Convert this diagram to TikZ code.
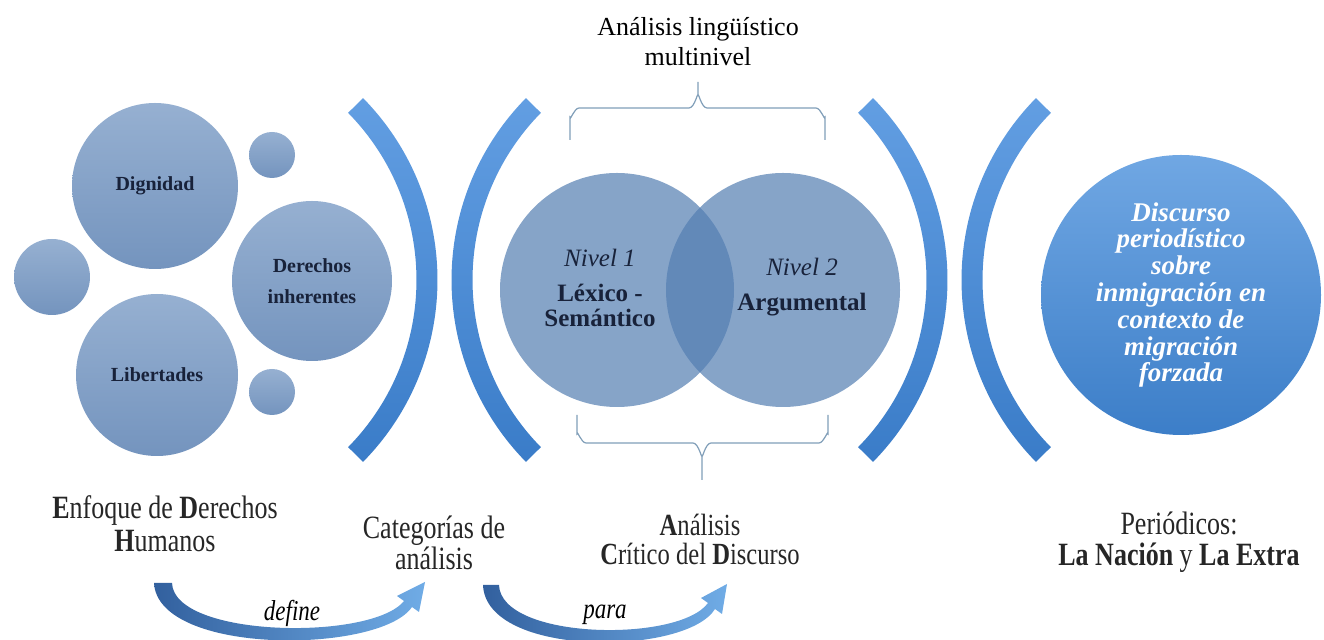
\documentclass[tikz,border=0pt]{standalone}
\usepackage{fontspec}
\setmainfont{Liberation Serif}

\definecolor{bubbletop}{RGB}{150,176,209}
\definecolor{bubblebot}{RGB}{116,148,190}
\definecolor{venncol}{RGB}{82,125,177}
\definecolor{arctop}{RGB}{98,158,226}
\definecolor{arcbot}{RGB}{58,124,200}
\definecolor{bigtop}{RGB}{112,167,227}
\definecolor{bigbot}{RGB}{60,126,200}
\definecolor{navy}{RGB}{24,34,58}
\definecolor{bracecol}{RGB}{128,158,184}
\definecolor{swdark}{RGB}{50,96,158}
\definecolor{swlight}{RGB}{112,172,230}

\newcommand{\tall}[1]{\scalebox{1}[1.25]{#1}}

\begin{document}
\lineskiplimit=-20pt
\begin{tikzpicture}[x=0.5pt,y=-0.5pt,
  bubble/.style={circle,top color=bubbletop,bottom color=bubblebot,inner sep=0pt,align=center,text=navy,font=\fontsize{10}{15.5}\selectfont\bfseries},
  venn/.style={circle,fill=venncol,fill opacity=0.7,text opacity=1,minimum size=117pt,inner sep=0pt},
  band/.style={top color=arctop,bottom color=arcbot},
  caption/.style={align=center,text=black!85},
  brace/.style={draw=bracecol,line width=0.6pt},
  swoosh/.style={left color=swdark,right color=swlight}]

\useasboundingbox (0,0) rectangle (1324,640);

% enfoque de derechos humanos
\node(dig) at (155,186)[bubble,minimum size=83pt]{Dignidad};
\node(s1) at (272,155)[bubble,minimum size=23pt]{};
\node(s2) at (52,277)[bubble,minimum size=38pt]{};
\node(der) at (312,281)[bubble,minimum size=80pt]{Derechos\\inherentes};
\node(lib) at (157,375)[bubble,minimum size=81pt]{Libertades};
\node(s3) at (272,392)[bubble,minimum size=23pt]{};

% parentheses
\shade[band] ([shift={(-44.5:259.5)}]178,280) arc[start angle=-44.5,end angle=44.5,radius=259.5] -- ([shift={(44.5:238.5)}]178,280) arc[start angle=44.5,end angle=-44.5,radius=238.5] -- cycle;
\shade[band] ([shift={(135.5:259.5)}]711,280) arc[start angle=135.5,end angle=224.5,radius=259.5] -- ([shift={(224.5:238.5)}]711,280) arc[start angle=224.5,end angle=135.5,radius=238.5] -- cycle;
\shade[band] ([shift={(-44.5:259.5)}]688,280) arc[start angle=-44.5,end angle=44.5,radius=259.5] -- ([shift={(44.5:238.5)}]688,280) arc[start angle=44.5,end angle=-44.5,radius=238.5] -- cycle;
\shade[band] ([shift={(135.5:259.5)}]1221,280) arc[start angle=135.5,end angle=224.5,radius=259.5] -- ([shift={(224.5:238.5)}]1221,280) arc[start angle=224.5,end angle=135.5,radius=238.5] -- cycle;

% niveles
\node(n1) at (617,290)[venn]{};
\node(n2) at (783,290)[venn]{};
\node(t1) at (600,288)[align=center,text=navy,font=\fontsize{12.5}{12.5}\selectfont]{{\itshape Nivel 1}\\[5pt]\textbf{Léxico -}\\\textbf{Semántico}};
\node(t2) at (802,287)[align=center,text=navy,font=\fontsize{12.5}{12.5}\selectfont]{{\itshape Nivel 2}\\[5pt]\textbf{Argumental}};

\node(alm) at (698,42)[align=center,font=\fontsize{13}{15}\selectfont]{Análisis lingüístico\\multinivel};
\draw[brace] (570,140) -- (570,117) to[out=-90,in=180] (579,108) -- (689,108) to[out=0,in=90] (698,96) -- (698,82) -- (698,96) to[out=90,in=180] (707,108) -- (816,108) to[out=0,in=-90] (825,117) -- (825,140);
\draw[brace] (577,415) -- (577,434) to[out=90,in=180] (586,443) -- (693,443) to[out=0,in=-90] (702,455) -- (702,480) -- (702,455) to[out=-90,in=180] (711,443) -- (819,443) to[out=0,in=90] (828,434) -- (828,415);

% discurso
\node(disc) at (1181,295)[circle,top color=bigtop,bottom color=bigbot,minimum size=140pt,inner sep=0pt,align=center,text=white,font=\fontsize{13.5}{13.4}\selectfont\bfseries\itshape]{Discurso\\periodístico\\sobre\\inmigración en\\contexto de\\migración\\forzada};

% captions
\node(edh) at (165,524)[caption,font=\fontsize{13}{16.5}\selectfont]{\tall{\textbf{E}nfoque de \textbf{D}erechos}\\\tall{\textbf{H}umanos}};
\node(cat) at (434,543)[caption,font=\fontsize{13}{15.5}\selectfont]{\tall{Categorías de}\\\tall{análisis}};
\node(acd) at (700,539)[caption,font=\fontsize{12.3}{14.5}\selectfont]{\tall{\textbf{A}nálisis}\\\tall{\textbf{C}rítico del \textbf{D}iscurso}};
\node(per) at (1179,542)[caption,font=\fontsize{13}{15.5}\selectfont]{\tall{Periódicos:}\\\tall{\textbf{La Nación} y \textbf{La Extra}}};

% arrows
\shade[swoosh] (154,583) .. controls (158,656) and (380,654) .. (412,607) -- (419,612) -- (425,582) -- (397,596) -- (404,601) .. controls (372,641) and (174,638) .. (172,583) -- cycle;
\shade[swoosh] (483,585) .. controls (486,658) and (686,656) .. (715,609) -- (722,614) -- (727,584) -- (701,598) -- (708,603) .. controls (679,643) and (501,640) .. (499,585) -- cycle;
\node(def) at (292,613)[font=\fontsize{11.5}{11.5}\selectfont\itshape]{\tall{define}};
\node(para) at (605,615)[font=\fontsize{11.5}{11.5}\selectfont\itshape]{\tall{para}};

\end{tikzpicture}
\end{document}
